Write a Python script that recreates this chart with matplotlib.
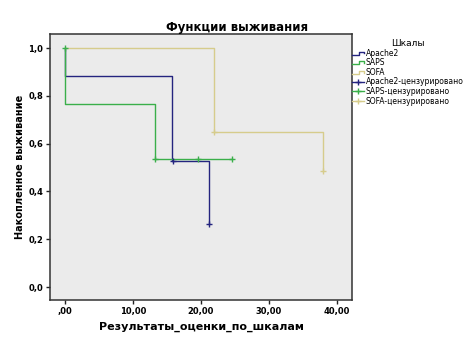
import numpy as np
import matplotlib
matplotlib.use("Agg")
from matplotlib import pyplot as plt
from matplotlib.lines import Line2D
from matplotlib.legend_handler import HandlerBase

# Kaplan-Meier steps: event times and survival after each step
apache_times = [0.0, 0.0, 15.8, 21.2]
apache_surv = [1.0, 0.882, 0.529, 0.265]
apache_cens_x = [15.9, 21.2]
apache_cens_y = [0.529, 0.265]

saps_times = [0.0, 0.0, 13.2]
saps_surv = [1.0, 0.765, 0.535]
saps_end = 24.6
saps_cens_x = [0.0, 13.3, 19.5, 24.6]
saps_cens_y = [1.0, 0.535, 0.535, 0.535]

sofa_times = [0.0, 21.9, 37.9]
sofa_surv = [1.0, 0.647, 0.485]
sofa_cens_x = [21.9, 38.0]
sofa_cens_y = [0.647, 0.485]

x_ticks = [0, 10, 20, 30, 40]
x_labels = [",00", "10,00", "20,00", "30,00", "40,00"]
y_ticks = [0.0, 0.2, 0.4, 0.6, 0.8, 1.0]
y_labels = ["0,0", "0,2", "0,4", "0,6", "0,8", "1,0"]

C_APACHE = "#24247f"
C_SAPS = "#3aaf4a"
C_SOFA = "#d6cc8c"


def step_xy(times, surv, end):
    xs, ys = [], []
    for i, (t, s) in enumerate(zip(times, surv)):
        if i > 0:
            xs.append(t)
            ys.append(surv[i - 1])
        xs.append(t)
        ys.append(s)
    xs.append(end)
    ys.append(surv[-1])
    return xs, ys


class StepHandler(HandlerBase):
    # small survival-step icon for legend entries
    def create_artists(self, legend, orig_handle, xdescent, ydescent,
                       width, height, fontsize, trans):
        x0 = -xdescent
        y0 = -ydescent
        xs = np.array([0, 0.55, 0.55, 1.0, 1.0]) * width + x0
        ys = np.array([0.15, 0.15, 0.7, 0.7, 0.4]) * height + y0
        ln = Line2D(xs, ys, color=orig_handle.get_color(), lw=1.0,
                    transform=trans)
        return [ln]


def main():
    fig = plt.figure(figsize=(4.74, 3.41), dpi=100)
    ax = fig.add_axes([50 / 474, 41 / 341, 302 / 474, 266 / 341])
    ax.set_facecolor("#ebebeb")

    ax_x, ax_y = step_xy(apache_times, apache_surv, apache_cens_x[-1])
    sx, sy = step_xy(saps_times, saps_surv, saps_end)
    fx, fy = step_xy(sofa_times, sofa_surv, sofa_cens_x[-1])

    l_ap, = ax.plot(ax_x, ax_y, color=C_APACHE, lw=1.0)
    l_sa, = ax.plot(sx, sy, color=C_SAPS, lw=1.0)
    l_so, = ax.plot(fx, fy, color=C_SOFA, lw=1.0)

    for cx, cy, c in [(apache_cens_x, apache_cens_y, C_APACHE),
                      (saps_cens_x, saps_cens_y, C_SAPS),
                      (sofa_cens_x, sofa_cens_y, C_SOFA)]:
        ax.plot(cx, cy, ls="none", marker="+", ms=5, mew=1.0, color=c)

    ax.set_xlim(-2.2, 42.2)
    ax.set_ylim(-0.054, 1.059)
    ax.set_xticks(x_ticks)
    ax.set_xticklabels(x_labels)
    ax.set_yticks(y_ticks)
    ax.set_yticklabels(y_labels)
    ax.tick_params(labelsize=6, width=1.0, length=3, color="#222222", pad=2)
    for lbl in ax.get_xticklabels() + ax.get_yticklabels():
        lbl.set_fontweight("bold")
    for sp in ax.spines.values():
        sp.set_color("#333333")
        sp.set_linewidth(1.1)

    ax.set_xlabel("Результаты_оценки_по_шкалам", fontsize=8,
                  fontweight="bold", labelpad=4)
    ax.set_ylabel("Накопленное выживание", fontsize=7,
                  fontweight="bold", labelpad=2)
    fig.text(0.5, 1 - 27 / 341, "Функции выживания", ha="center",
             va="center", fontsize=8.5, fontweight="bold")

    handles = [l_ap, l_sa, l_so,
               Line2D([0], [0], color=C_APACHE, lw=1.0, marker="+", ms=5),
               Line2D([0], [0], color=C_SAPS, lw=1.0, marker="+", ms=5),
               Line2D([0], [0], color=C_SOFA, lw=1.0, marker="+", ms=5)]
    labels = ["Apache2", "SAPS", "SOFA", "Apache2-цензурировано",
              "SAPS-цензурировано", "SOFA-цензурировано"]
    fig.legend(handles, labels, title="Шкалы", loc="upper left",
               bbox_to_anchor=(352 / 474, 1 - 39 / 341),
               frameon=False, fontsize=5.5, title_fontsize=6.5,
               handlelength=1.6, handletextpad=0.2,
               labelspacing=0.08, borderaxespad=0, borderpad=0,
               handler_map={l_ap: StepHandler(), l_sa: StepHandler(),
                            l_so: StepHandler()})

    fig.savefig("out.png", dpi=100)


if __name__ == "__main__":
    main()
